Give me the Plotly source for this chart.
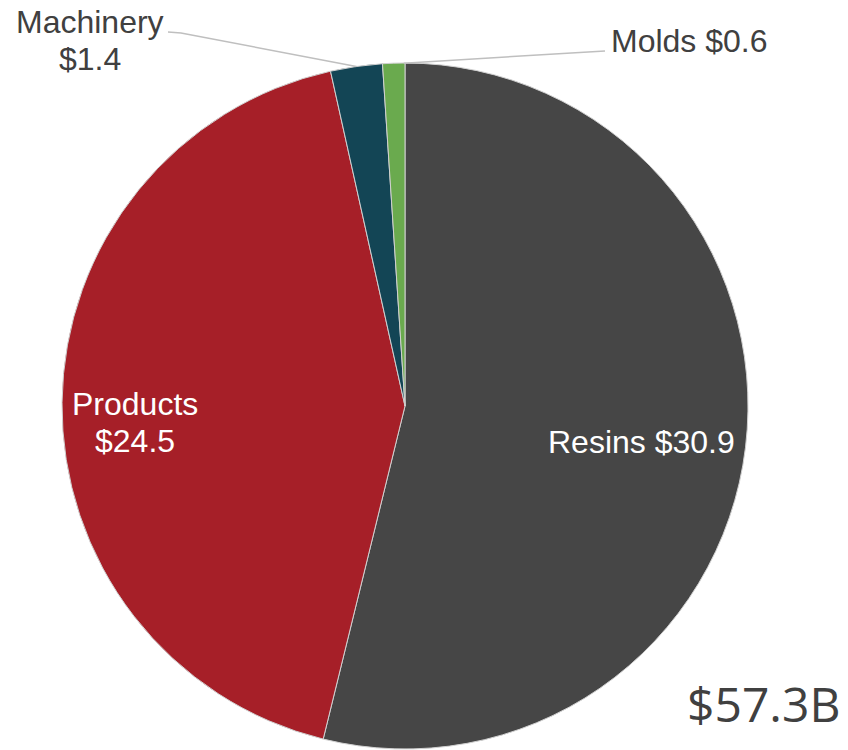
import math
import plotly.graph_objects as go

# ---- data ----
categories = ["Resins", "Products", "Machinery", "Molds"]
values = [30.9, 24.5, 1.4, 0.6]
colors = ["#464646", "#A61F28", "#134555", "#6AAA4E"]
total_label = "$57.3B"

W, H = 848, 750
CX, CY, R = 405, 406, 343  # pie centre / radius in window pixels


def px(x):
    return x / W


def py(y):
    return 1 - y / H


fig = go.Figure(
    go.Pie(
        labels=categories,
        values=values,
        sort=False,
        direction="clockwise",
        rotation=0,
        textinfo="none",
        hoverinfo="label+value",
        marker=dict(colors=colors, line=dict(color="#d0d0d0", width=1)),
        domain=dict(x=[px(CX - R), px(CX + R)], y=[py(CY + R), py(CY - R)]),
        showlegend=False,
    )
)

# slice mid-angles from data (clockwise from 12 o'clock)
tot = sum(values)
cum = 0
mids = []
for v in values:
    mids.append((cum + v / 2) / tot * 2 * math.pi)
    cum += v


def edge_point(i, frac=1.0):
    a = mids[i]
    return CX + R * frac * math.sin(a), CY - R * frac * math.cos(a)


font = "Liberation Sans, Arial, sans-serif"
FS = 32
anns = []


def label(x, y, text, color, xanchor="center"):
    anns.append(dict(x=px(x), y=py(y), xanchor=xanchor, yanchor="middle", text=text,
                     showarrow=False, font=dict(family=font, size=FS, color=color)))


# inside labels
label(641, 442, f"{categories[0]} ${values[0]}", "white")
label(135, 404, categories[1], "white")
label(135, 441, f"${values[1]}", "white")
# outside labels
label(90, 22, categories[2], "#404040")
label(90, 59, f"${values[2]}", "#404040")
label(609, 41, f"{categories[3]} ${values[3]}", "#404040", xanchor="left")
# total
anns.append(dict(x=px(842), y=py(703), xanchor="right", yanchor="middle", text=total_label,
                 showarrow=False, font=dict(family="Open Sans, sans-serif", size=48, color="#404040")))

shapes = []
mx, my = edge_point(2)
shapes.append(dict(type="path", xref="paper", yref="paper",
                   path=f"M {px(168)} {py(32)} L {px(181)} {py(33)} L {px(mx)} {py(my)}",
                   line=dict(color="#BFBFBF", width=1.5)))
ox, oy = edge_point(3)
shapes.append(dict(type="path", xref="paper", yref="paper",
                   path=f"M {px(605)} {py(51)} L {px(ox + 10)} {py(oy)}",
                   line=dict(color="#BFBFBF", width=1.5)))

fig.update_layout(
    width=W, height=H,
    margin=dict(l=0, r=0, t=0, b=0),
    paper_bgcolor="white", plot_bgcolor="white",
    annotations=anns, shapes=shapes,
)
fig.write_html("out.html", config={"displayModeBar": False},
               post_script="document.body.style.margin='0';")
